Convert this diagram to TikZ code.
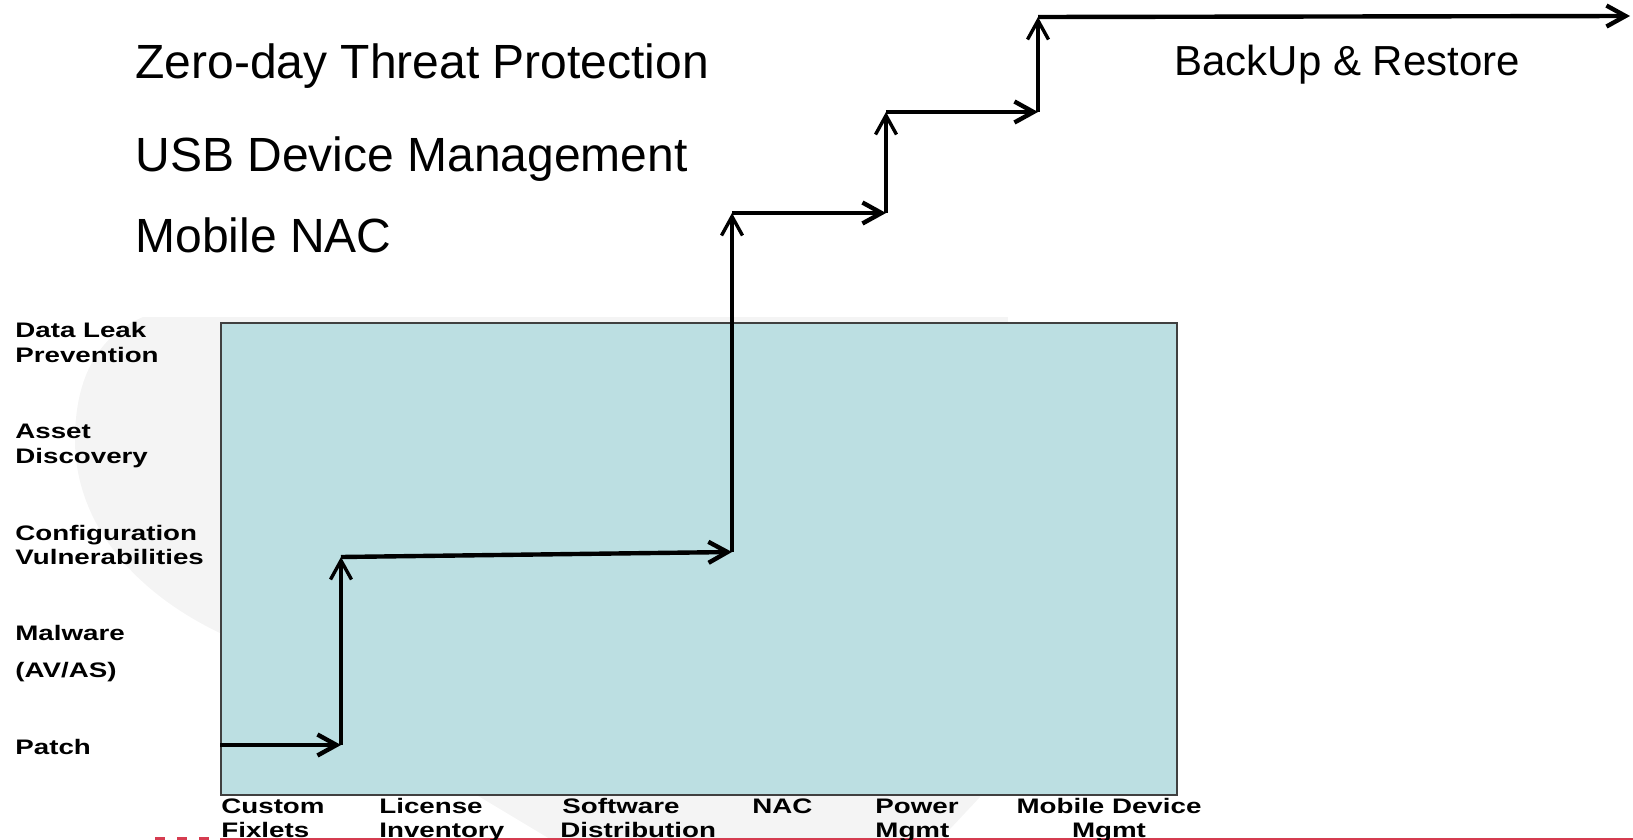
\documentclass[tikz,border=0pt]{standalone}
\usepackage{fontspec}
\setmainfont{Liberation Sans}
\usetikzlibrary{arrows.meta}
\definecolor{boxfill}{RGB}{188,223,226}
\definecolor{wmgrey}{RGB}{244,244,244}
\definecolor{redline}{RGB}{214,60,80}
\newcommand\wide[1]{\scalebox{1.32}[1]{#1}}
\begin{document}
\begin{tikzpicture}[x=0.5pt,y=-0.5pt,
  big/.style={anchor=base west, inner sep=0pt, font=\fontsize{24}{28}\selectfont},
  mid/.style={anchor=base west, inner sep=0pt, font=\fontsize{21}{25}\selectfont},
  lab/.style={anchor=base west, inner sep=0pt, font=\bfseries\fontsize{10.5}{12}\selectfont},
  labc/.style={lab, anchor=base},
  hstep/.style={line width=2.2pt, -{Straight Barb[length=9.5pt,width=10.5pt]}},
  vstep/.style={line width=1.7pt, -{Straight Barb[length=9.5pt,width=10.5pt]}},
]
\useasboundingbox (0,0) rectangle (1633,840);
% faint watermark
\fill[wmgrey] (143,317) -- (1008,317) -- (1000,600) -- (980,797) -- (935,845)
  -- (560,845) -- (480,797) -- (300,700) -- (220,633)
  .. controls (130,590) and (75,520) .. (75,440)
  .. controls (75,375) and (100,335) .. (143,317) -- cycle;
% main box
\node[draw=black!75, line width=1.1pt, fill=boxfill, inner sep=0pt,
  minimum width=478pt, minimum height=236pt, anchor=north west] (box) at (220,322) {};
% red footer line
\draw[redline, line width=1.2pt, dash pattern=on 5pt off 6pt] (155,838.5) -- (215,838.5);
\draw[redline, line width=1pt] (220,838.5) -- (1633,838.5);
% staircase corners
\coordinate (c0) at (220,745);
\coordinate (c1) at (341,745);
\coordinate (c2) at (341,557);
\coordinate (c3) at (732,552);
\coordinate (c4) at (732,213);
\coordinate (c5) at (886,213);
\coordinate (c6) at (886,112);
\coordinate (c7) at (1038,112);
\coordinate (c8) at (1038,17);
\coordinate (c9) at (1630,16);
\draw[hstep] (c0) -- (c1);
\draw[vstep] (c1) -- (c2);
\draw[hstep] (c2) -- (c3);
\draw[vstep] (c3) -- (c4);
\draw[hstep] (c4) -- (c5);
\draw[vstep] (c5) -- (c6);
\draw[hstep] (c6) -- (c7);
\draw[vstep] (c7) -- (c8);
\draw[hstep] (c8) -- (c9);
% upper texts
\node[big] (zero) at (135,79) {Zero-day Threat Protection};
\node[big] (usb) at (135,171) {USB Device Management};
\node[big] (mnac) at (135,252) {Mobile NAC};
\node[mid] (backup) at (1174,76) {BackUp \& Restore};
% left labels
\node[lab] (dlp1) at (15,337) {\wide{Data Leak}};
\node[lab] (dlp2) at (15,362) {\wide{Prevention}};
\node[lab] (ad1) at (15,438) {\wide{Asset}};
\node[lab] (ad2) at (15,463) {\wide{Discovery}};
\node[lab] (cv1) at (15,540) {\wide{Configuration}};
\node[lab] (cv2) at (15,564) {\wide{Vulnerabilities}};
\node[lab] (mw1) at (15,640) {\wide{Malware}};
\node[lab] (mw2) at (15,677) {\wide{(AV/AS)}};
\node[lab] (pt) at (15,754) {\wide{Patch}};
% bottom labels
\node[lab] (cf1) at (221,813) {\wide{Custom}};
\node[lab] (cf2) at (221,837) {\wide{Fixlets}};
\node[lab] (li1) at (379,813) {\wide{License}};
\node[lab] (li2) at (379,837) {\wide{Inventory}};
\node[lab] (sd1) at (562,813) {\wide{Software}};
\node[lab] (sd2) at (560,837) {\wide{Distribution}};
\node[lab] (nac) at (752,813) {\wide{NAC}};
\node[lab] (pm1) at (875,813) {\wide{Power}};
\node[lab] (pm2) at (875,837) {\wide{Mgmt}};
\node[labc] (md1) at (1109,813) {\wide{Mobile Device}};
\node[labc] (md2) at (1109,837) {\wide{Mgmt}};
\end{tikzpicture}
\end{document}
